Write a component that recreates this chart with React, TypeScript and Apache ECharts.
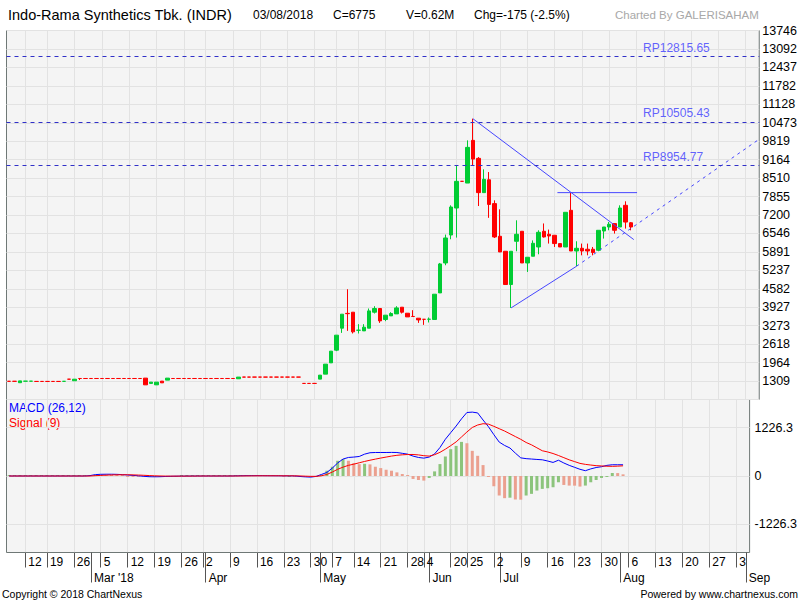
import React, { useEffect, useRef } from "react";
import * as echarts from "echarts";

const FONT = "'Liberation Sans', Arial, Helvetica, sans-serif";

// ---- calendar (IDX trading days shown on the axis) ----
const FIRST_DAY = "2018-02-07";
const LAST_DAY = "2018-09-05";
const HOLIDAYS = [
  "2018-02-16", "2018-03-30", "2018-05-01", "2018-05-10", "2018-05-29", "2018-06-01",
  "2018-06-11", "2018-06-12", "2018-06-13", "2018-06-14", "2018-06-15", "2018-06-18", "2018-06-19",
];
const MONTH_NAMES = ["Jan", "Feb", "Mar", "Apr", "May", "Jun", "Jul", "Aug", "Sep", "Oct", "Nov", "Dec"];

// ---- price data: [open, close, low, high] per trading day from 2018-02-07 ----
const PRICES: number[][] = [
  [1300, 1300, 1300, 1300], [1300, 1300, 1300, 1300], [1250, 1315, 1250, 1315], [1304, 1305, 1304, 1305],
  [1304, 1305, 1304, 1305], [1295, 1295, 1295, 1295], [1295, 1295, 1295, 1295], [1295, 1295, 1295, 1295],
  [1295, 1295, 1295, 1295], [1295, 1295, 1295, 1295], [1299, 1300, 1299, 1300], [1375, 1375, 1375, 1375],
  [1320, 1375, 1320, 1375], [1400, 1400, 1345, 1400], [1400, 1400, 1400, 1400], [1400, 1400, 1400, 1400],
  [1400, 1400, 1400, 1400], [1400, 1400, 1400, 1400], [1400, 1400, 1400, 1400], [1400, 1400, 1400, 1400],
  [1400, 1400, 1400, 1400], [1400, 1400, 1400, 1400], [1400, 1400, 1400, 1400], [1400, 1400, 1400, 1400],
  [1400, 1400, 1400, 1400], [1413, 1175, 1175, 1413], [1225, 1271, 1225, 1271], [1175, 1271, 1175, 1271],
  [1306, 1246, 1246, 1306], [1342, 1413, 1342, 1413], [1400, 1400, 1400, 1400], [1400, 1400, 1400, 1400],
  [1400, 1400, 1400, 1400], [1400, 1400, 1400, 1400], [1400, 1400, 1400, 1400], [1400, 1400, 1400, 1400],
  [1400, 1400, 1400, 1400], [1400, 1400, 1400, 1400], [1400, 1400, 1400, 1400], [1400, 1400, 1400, 1400],
  [1400, 1400, 1400, 1400], [1400, 1400, 1400, 1400], [1390, 1450, 1390, 1450], [1450, 1450, 1450, 1450],
  [1450, 1450, 1450, 1450], [1450, 1450, 1450, 1450], [1450, 1450, 1450, 1450], [1450, 1450, 1450, 1450],
  [1450, 1450, 1450, 1450], [1450, 1450, 1450, 1450], [1450, 1450, 1450, 1450], [1450, 1450, 1450, 1450],
  [1450, 1450, 1450, 1450], [1450, 1450, 1450, 1450], [1225, 1225, 1225, 1225], [1225, 1225, 1225, 1225],
  [1225, 1225, 1225, 1225], [1377, 1519, 1377, 1519], [1554, 1909, 1554, 1909], [1955, 2370, 1955, 2370],
  [2405, 2937, 2370, 2937], [3185, 3681, 3018, 3681], [3710, 3700, 3089, 4567], [3752, 3054, 2997, 3752],
  [3110, 3114, 2997, 3327], [3089, 3220, 3089, 3327], [3185, 3798, 3185, 3883], [3752, 3883, 3706, 3965],
  [3883, 3444, 3373, 3883], [3493, 3646, 3433, 3646], [3621, 3706, 3621, 3752], [3692, 3904, 3692, 3965],
  [3929, 3752, 3706, 3929], [3716, 3585, 3585, 3716], [3600, 3600, 3600, 3823], [3539, 3479, 3373, 3539],
  [3500, 3500, 3302, 3500], [3500, 3505, 3387, 3564], [3493, 4390, 3493, 4390], [4436, 5464, 4436, 5499],
  [5499, 6385, 5418, 6506], [6491, 7484, 6339, 7544], [7448, 8395, 6399, 8951], [8395, 8395, 8395, 8395],
  [8334, 9600, 8334, 9848], [9848, 9185, 8962, 10617], [9210, 7994, 7519, 9256], [7994, 8465, 7994, 8820],
  [8450, 7575, 7100, 8724], [7604, 6421, 6385, 7721], [6445, 5889, 5889, 7402], [5914, 4734, 4734, 5914],
  [4734, 5914, 3904, 5914], [6268, 6516, 5914, 7012], [6623, 5499, 5499, 6623], [5499, 5701, 5180, 5701],
  [5737, 6197, 5737, 6300], [6066, 6587, 5807, 6658], [6623, 6421, 6400, 6900], [6516, 6456, 6187, 6683],
  [6481, 6187, 6066, 6481], [6187, 6066, 6066, 6187], [6066, 7296, 6066, 7296], [7367, 5924, 5924, 7994],
  [5924, 6020, 5382, 6268], [6020, 5924, 5770, 6187], [5985, 5924, 5770, 6187], [5985, 5868, 5770, 6066],
  [5949, 6658, 5914, 6658], [6633, 6775, 6364, 6775], [6775, 6871, 6658, 6952], [6895, 6658, 6541, 6895],
  [6775, 7448, 6775, 7544], [7544, 6950, 6718, 7686], [6925, 6775, 6658, 6952],
];

const MACD_LINE = [
  0, 0, 0, 0, 0, 0, 0, 0, 0, 0, 0, 0, 0, 0, 0,
  10, 35, 43, 45, 45, 42, 35, 25, 15, 5,
  -8, -18, -20, -18, -12, -8, -5, -3, -2, -1,
  0, 0, 0, 0, 0, 0, 0,
  3, 6, 8, 9, 9, 8, 7, 6, 5, 4, 3, 2,
  -12, -22, -28, -10,
  40, 90, 200, 330, 430, 470, 480, 495, 554, 590,
  596, 596, 596, 598, 596, 575, 554, 505, 470, 453,
  480, 560, 722, 932, 1100, 1267, 1450, 1610, 1620, 1600,
  1420, 1250, 1050, 860, 775, 710, 580, 460, 440, 430,
  420, 411, 380, 344, 400, 330, 270, 220, 170, 134,
  180, 215, 235, 270, 285, 285, 285,
];

const SIGNAL_LINE = [
  0, 0, 0, 0, 0, 0, 0, 0, 0, 0, 0, 0, 0, 0, 0, 0,
  8, 15, 22, 27, 30, 32, 31, 28, 24, 18,
  11, 5, 1, -2, -3, -3, -3, -2, -2, -1,
  0, 0, 0, 0, 0, 0, 0,
  1, 2, 3, 4, 5, 5, 5, 5, 5, 4, 4,
  1, -4, -9, -9,
  5, 40, 100, 170, 225, 270, 300, 335, 369, 400,
  428, 455, 480, 505, 525, 537, 545, 546, 535, 515,
  505, 540, 600, 680, 770, 865, 990, 1116, 1230, 1293,
  1326, 1315, 1260, 1200, 1140, 1070, 1000, 930, 850, 790,
  715, 640, 610, 570, 520, 465, 410, 365, 320, 295,
  278, 262, 255, 248, 245, 250, 258,
];

const HISTOGRAM = [
  0, 0, 0, 0, 0, 0, 0, 0, 0, 0, 0, 0, 0, 0, 0,
  10, 20, 18, 15, 12, 10, 6, -4, -12, -18,
  -25, -22, -20, -16, -12, -8, -4,
  0, 0, 0, 0, 0, 0, 0, 0, 0, 0,
  3, 5, 6, 6, 5, 3, 2, 1, 0, -1, -1, -2,
  -13, -18, -19, -1,
  30, 134, 235, 386, 428, 386, 327, 300, 310, 295,
  235, 201, 159, 134, 92, 50, 8, -75, -101, -117,
  -50, 117, 302, 495, 680, 764, 865, 831, 638, 512,
  277, -8, -260, -495, -562, -550, -596, -600, -495, -453,
  -369, -327, -310, -285, -159, -227, -243, -245, -268, -243,
  -159, -101, -50, -25, 76, 74, 42,
];

// ---- axis ticks & annotations ----
const Y_STEP = 654.58;
const Y_STEPS = 21;
const MACD_TICKS = [-1226.3, 0, 1226.3];
const MACD_RANGE = 1940;
const RESISTANCE = [12815.65, 10505.43, 8954.77];
const RESISTANCE_LABEL_X = 116.2; // day-index where the RP labels start
// trend lines: [day index, price]
const DOWN_TREND = [[85, 10617], [114.5, 6328]];
const TOP_LINE = [[100.5, 7994], [115.1, 7994]];
const UP_TREND = [[92, 3904], [104, 5382]];
const UP_TREND_EXT = [[104, 5382], [137.5, 9891]];

const TITLE = "Indo-Rama Synthetics Tbk. (INDR)";
const VOLUME_TEXT = "V=0.62M";
const CHARTED_BY = "Charted By GALERISAHAM";

function buildDays(): string[] {
  const out: string[] = [];
  const [y0, m0, d0] = FIRST_DAY.split("-").map(Number);
  const [y1, m1, d1] = LAST_DAY.split("-").map(Number);
  const d = new Date(Date.UTC(y0, m0 - 1, d0));
  const end = Date.UTC(y1, m1 - 1, d1);
  while (d.getTime() <= end) {
    const wd = d.getUTCDay();
    const s = d.toISOString().slice(0, 10);
    if (wd !== 0 && wd !== 6 && HOLIDAYS.indexOf(s) < 0) out.push(s);
    d.setUTCDate(d.getUTCDate() + 1);
  }
  return out;
}

function weekKey(s: string): number {
  const [y, m, d] = s.split("-").map(Number);
  const days = Math.floor(Date.UTC(y, m - 1, d) / 86400000);
  return Math.floor((days + 3) / 7);
}

function buildOption() {
  const DAYS = buildDays();
  const N = DAYS.length;
  const weekIdx = new Set<number>();
  const monthIdx = new Set<number>();
  for (let i = 1; i < N; i++) {
    if (weekKey(DAYS[i]) !== weekKey(DAYS[i - 1])) weekIdx.add(i);
    if (DAYS[i].slice(5, 7) !== DAYS[i - 1].slice(5, 7)) monthIdx.add(i);
  }
  const firstMonth = Math.min(...Array.from(monthIdx));
  const isWeek = (i: number) => weekIdx.has(i);
  const isMonth = (i: number) => monthIdx.has(i);

  const last = PRICES.length - 1;
  const lastClose = PRICES[last][1];
  const prevClose = PRICES[last - 1][1];
  const chg = lastClose - prevClose;
  const pct = (chg / prevClose) * 100;
  const ld = DAYS[last];
  const dateText = `${ld.slice(8, 10)}/${ld.slice(5, 7)}/${ld.slice(0, 4)}`;

  const GRIDC = "#e2e2e2";
  const BORDER = "#6f7876";
  const GREEN = "#00cc33";
  const RED = "#ff0000";
  const TREND = "#4646ff";

  const histData = HISTOGRAM.map((v, i) => ({
    value: v,
    itemStyle: { color: i > 0 && v < HISTOGRAM[i - 1] ? "#eba08f" : "#8cc47c" },
  }));

  const gridBox = { left: 6.5, width: 753 };

  const txt = (text: string, left: number, top: number, size: number, fill: string) => ({
    type: "text",
    left,
    top,
    silent: true,
    style: { text, fill, font: `${size}px ${FONT}` },
  });

  return {
    animation: false,
    backgroundColor: "#ffffff",
    textStyle: { fontFamily: FONT },
    grid: [
      { ...gridBox, top: 30.5, height: 369, show: true, backgroundColor: "#f4f4f4", borderColor: BORDER, borderWidth: 1 },
      { ...gridBox, top: 399.5, height: 153, show: true, backgroundColor: "#f4f4f4", borderColor: BORDER, borderWidth: 1 },
      { ...gridBox, top: 399.5, height: 153, show: false },
    ],
    xAxis: [
      {
        type: "category", gridIndex: 0, data: DAYS, boundaryGap: true,
        axisLine: { show: false, onZero: false }, axisTick: { show: false }, axisLabel: { show: false },
        splitLine: { show: true, interval: isWeek, alignWithLabel: true, lineStyle: { color: GRIDC, width: 1 } },
      },
      { type: "value", gridIndex: 0, min: -0.5, max: N - 0.5, show: false, axisLine: { onZero: false } },
      {
        type: "category", gridIndex: 1, data: DAYS, boundaryGap: true, position: "bottom",
        axisLine: { show: false, onZero: false },
        axisTick: { show: true, alignWithLabel: true, interval: isWeek, length: 15, lineStyle: { color: "#555" } },
        axisLabel: {
          show: true, interval: isWeek, align: "left", padding: [0, 0, 0, 3], margin: 3,
          fontSize: 12, color: "#000", fontFamily: FONT,
          formatter: (v: string) => String(Number(v.slice(8, 10))),
        },
        splitLine: { show: true, interval: isWeek, alignWithLabel: true, lineStyle: { color: GRIDC, width: 1 } },
      },
      {
        type: "category", gridIndex: 2, data: DAYS, boundaryGap: true, position: "bottom",
        axisLine: { show: false, onZero: false },
        axisTick: { show: true, alignWithLabel: true, interval: isMonth, length: 30, lineStyle: { color: "#555" } },
        axisLabel: {
          show: true, interval: isMonth, align: "left", padding: [0, 0, 0, 3], margin: 19,
          fontSize: 12, color: "#000", fontFamily: FONT,
          formatter: (v: string) => {
            const m = MONTH_NAMES[Number(v.slice(5, 7)) - 1];
            const idx = DAYS.indexOf(v);
            return idx === firstMonth ? `${m} '${v.slice(2, 4)}` : m;
          },
        },
        splitLine: { show: false },
      },
    ],
    yAxis: [
      {
        type: "value", gridIndex: 0, position: "right",
        min: Y_STEP, max: Number((Y_STEP * Y_STEPS).toFixed(2)), interval: Y_STEP,
        axisLine: { show: false }, axisTick: { show: false },
        axisLabel: {
          formatter: (v: number) => String(Math.round(v)), showMinLabel: false, showMaxLabel: true,
          margin: 3, fontSize: 12.5, color: "#000", fontFamily: FONT,
        },
        splitLine: { show: true, lineStyle: { color: GRIDC, width: 1 } },
      },
      {
        type: "value", gridIndex: 1, position: "right", min: -MACD_RANGE, max: MACD_RANGE,
        axisLine: { show: false },
        axisTick: { show: false, customValues: MACD_TICKS },
        axisLabel: {
          customValues: MACD_TICKS, margin: 5, fontSize: 12.5, color: "#000", fontFamily: FONT,
          formatter: (v: number) => (v === 0 ? "0" : v.toFixed(1)),
        },
        splitLine: { show: true, lineStyle: { color: GRIDC, width: 1 } },
      },
      { type: "value", gridIndex: 2, min: 0, max: 1, show: false },
    ],
    series: [
      {
        type: "candlestick", xAxisIndex: 0, yAxisIndex: 0, data: PRICES, barWidth: 4,
        itemStyle: {
          color: GREEN, color0: RED, borderColor: GREEN, borderColor0: RED, borderColorDoji: RED, borderWidth: 1,
        },
        markLine: {
          silent: true, symbol: ["none", "none"], label: { show: false },
          lineStyle: { type: [4, 4], color: "#3030c8", width: 1 },
          data: RESISTANCE.map((v) => ({ yAxis: v })),
        },
      },
      {
        type: "scatter", xAxisIndex: 1, yAxisIndex: 0, silent: true, symbolSize: 0,
        data: RESISTANCE.map((v) => [RESISTANCE_LABEL_X, v]),
        label: {
          show: true, position: [0, -15], align: "left", verticalAlign: "top",
          color: "#3a3aff", fontSize: 12, fontFamily: FONT,
          formatter: (p: any) => "RP" + Number(p.value[1]).toFixed(2),
        },
      },
      { type: "line", xAxisIndex: 1, yAxisIndex: 0, data: DOWN_TREND, symbol: "none", silent: true, lineStyle: { color: TREND, width: 1 } },
      { type: "line", xAxisIndex: 1, yAxisIndex: 0, data: TOP_LINE, symbol: "none", silent: true, lineStyle: { color: TREND, width: 1 } },
      { type: "line", xAxisIndex: 1, yAxisIndex: 0, data: UP_TREND, symbol: "none", silent: true, lineStyle: { color: TREND, width: 1 } },
      { type: "line", xAxisIndex: 1, yAxisIndex: 0, data: UP_TREND_EXT, symbol: "none", silent: true, lineStyle: { color: TREND, width: 1, type: [3, 4] } },
      { type: "bar", xAxisIndex: 2, yAxisIndex: 1, data: histData, barWidth: 3, barMinHeight: 1, silent: true },
      { type: "line", xAxisIndex: 2, yAxisIndex: 1, data: MACD_LINE, symbol: "none", silent: true, lineStyle: { color: "#0000ff", width: 1 } },
      { type: "line", xAxisIndex: 2, yAxisIndex: 1, data: SIGNAL_LINE, symbol: "none", silent: true, lineStyle: { color: "#ff0000", width: 1 } },
    ],
    graphic: [
      txt(TITLE, 8, 7, 14.5, "#000"),
      txt(dateText, 253, 9, 12, "#000"),
      txt(`C=${lastClose}`, 333, 9, 12, "#000"),
      txt(VOLUME_TEXT, 406, 9, 12, "#000"),
      txt(`Chg=${chg} (${pct.toFixed(1)}%)`, 474, 9, 12, "#000"),
      txt(CHARTED_BY, 615, 9, 11.5, "#a8a8a8"),
      txt("MACD (26,12)", 9, 402, 12, "#0000ff"),
      txt("Signal (9)", 9, 417, 12, "#ff0000"),
      txt("Copyright \u00a9 2018 ChartNexus", 2, 588, 10.5, "#000"),
      { type: "text", right: 2, top: 588, silent: true, style: { text: "Powered by www.chartnexus.com", fill: "#000", font: `10.5px ${FONT}` } },
    ],
  };
}

export default function App() {
  const ref = useRef<HTMLDivElement>(null);
  useEffect(() => {
    if (!ref.current) return;
    const chart = echarts.init(ref.current, null, { renderer: "svg" });
    chart.setOption(buildOption() as any);
    return () => chart.dispose();
  }, []);
  return (
    <div
      ref={ref}
      style={{ position: "absolute", left: 0, top: 0, width: 800, height: 600, background: "#fff", overflow: "hidden" }}
    />
  );
}
